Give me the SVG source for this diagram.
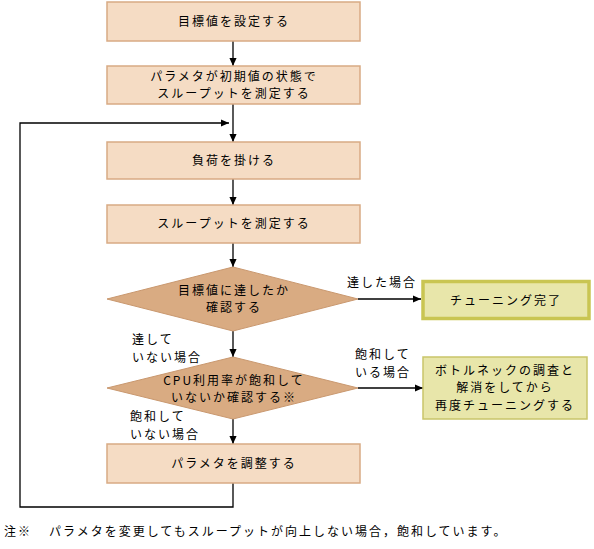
<svg xmlns="http://www.w3.org/2000/svg" width="594" height="549" viewBox="0 0 594 549">
<style>
text{font-family:"Noto Sans CJK JP","Noto Sans",sans-serif;font-size:12px;letter-spacing:2px;fill:#000}
.c{text-anchor:middle}
.box{fill:#f5dcc4;stroke:#d8aa84;stroke-width:1.5}
.dia{fill:#d9ab82;stroke:#c9986f;stroke-width:1}
.done{fill:#e8e6aa;stroke:#c9c552;stroke-width:3.5}
.bn{fill:#e8e6aa;stroke:#c9c56a;stroke-width:1.5}
.ln{fill:none;stroke:#000;stroke-width:1.3}
</style>
<defs>
<marker id="ah" markerWidth="8" markerHeight="8" refX="9" refY="4" orient="auto" markerUnits="userSpaceOnUse" viewBox="0 0 9 8">
<path d="M0,0 L9,4 L0,8 Z" fill="#000"/>
</marker>
</defs>
<g id="connectors">
<line class="ln" x1="233" y1="41" x2="233" y2="66" marker-end="url(#ah)"/>
<line class="ln" x1="233" y1="104" x2="233" y2="142" marker-end="url(#ah)"/>
<line class="ln" x1="233" y1="179" x2="233" y2="205" marker-end="url(#ah)"/>
<line class="ln" x1="233" y1="243" x2="233" y2="267" marker-end="url(#ah)"/>
<line class="ln" x1="233" y1="331" x2="233" y2="357" marker-end="url(#ah)"/>
<line class="ln" x1="233" y1="419" x2="233" y2="444" marker-end="url(#ah)"/>
<line class="ln" x1="358" y1="299" x2="421" y2="299" marker-end="url(#ah)"/>
<line class="ln" x1="358" y1="388" x2="423" y2="388" marker-end="url(#ah)"/>
<polyline class="ln" points="233,483 233,507 20,507 20,123 229,123" marker-end="url(#ah)"/>
<text x="347" y="287">達した場合</text>
<text x="132" y="344">達して</text>
<text x="132" y="361.5">いない場合</text>
<text x="355" y="359">飽和して</text>
<text x="355" y="376.5">いる場合</text>
<text x="130" y="421">飽和して</text>
<text x="130" y="438.5">いない場合</text>
</g>
<g id="n1"><rect class="box" x="107" y="2" width="253" height="39"/><text class="c" x="234" y="26">目標値を設定する</text></g>
<g id="n2"><rect class="box" x="107" y="66" width="253" height="38"/><text class="c" x="234" y="80.5">パラメタが初期値の状態で</text><text class="c" x="234" y="98">スループットを測定する</text></g>
<g id="n3"><rect class="box" x="107" y="142" width="253" height="37"/><text class="c" x="234" y="165">負荷を掛ける</text></g>
<g id="n4"><rect class="box" x="107" y="205" width="253" height="38"/><text class="c" x="234" y="228">スループットを測定する</text></g>
<g id="d1"><polygon class="dia" points="233,267 358,299 233,331 107,299"/><text class="c" x="234" y="294.5">目標値に達したか</text><text class="c" x="234" y="312">確認する</text></g>
<g id="d2"><polygon class="dia" points="233,357 358,388 233,419 107,388"/><text class="c" x="234" y="384.5">CPU利用率が飽和して</text><text class="c" x="234" y="402">いないか確認する※</text></g>
<g id="n5"><rect class="done" x="423" y="281.5" width="166" height="37"/><text class="c" x="506" y="305">チューニング完了</text></g>
<g id="n6"><rect class="bn" x="423" y="357" width="164" height="62"/><text class="c" x="505" y="374.5">ボトルネックの調査と</text><text class="c" x="505" y="392">解消をしてから</text><text class="c" x="505" y="409.5">再度チューニングする</text></g>
<g id="n7"><rect class="box" x="107" y="444" width="253" height="39"/><text class="c" x="234" y="468">パラメタを調整する</text></g>
<text x="4" y="536">注※<tspan x="49">パラメタを変更してもスループットが向上しない場合，飽和しています。</tspan></text>
</svg>
